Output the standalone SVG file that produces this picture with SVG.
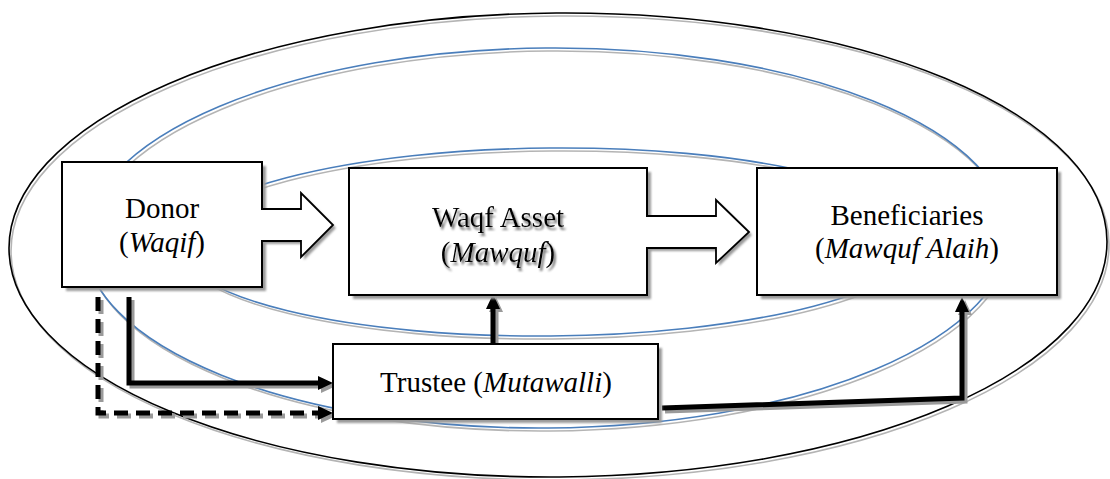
<svg xmlns="http://www.w3.org/2000/svg" width="1110" height="479" viewBox="0 0 1110 479">
  <style>
    .ring { fill: none; stroke-width: 1.6; }
    .ring-black { stroke: #000; }
    .ring-blue { stroke: #4a7ebb; }
    .ring-shadow { fill: none; stroke: #b4b4b4; stroke-width: 1.6; }
    .box { fill: #fff; stroke: #000; stroke-width: 2; }
    .box-shadow { fill: #9a9a9a; filter: url(#soft); }
    .blk { fill: #fff; stroke: #000; stroke-width: 1.8; stroke-linejoin: miter; }
    .blk-shadow { fill: #9a9a9a; filter: url(#soft); }
    text { font-family: 'Liberation Serif', 'DejaVu Serif', serif; font-size: 29px; fill: #000; text-anchor: middle; }
    .glow { filter: url(#textshadow); }
    .it { font-style: italic; }
    .con { fill: none; stroke: #000; stroke-width: 5; }
    .con-shadow { fill: none; stroke: #9a9a9a; stroke-width: 5; }
    .dash { stroke-dasharray: 14 8; }
  </style>
  <defs>
    <filter id="soft" x="-10%" y="-10%" width="120%" height="120%">
      <feGaussianBlur stdDeviation="0.8"/>
    </filter>
    <!-- soft grey drop shadow behind the asset label -->
    <filter id="textshadow" x="-10%" y="-30%" width="120%" height="170%">
      <feGaussianBlur in="SourceAlpha" stdDeviation="1.3" result="b"/>
      <feOffset in="b" dx="2" dy="3" result="o"/>
      <feFlood flood-color="#777"/>
      <feComposite in2="o" operator="in" result="s"/>
      <feMerge>
        <feMergeNode in="s"/>
        <feMergeNode in="SourceGraphic"/>
      </feMerge>
    </filter>
    <marker id="head" markerUnits="userSpaceOnUse" markerWidth="16" markerHeight="16" viewBox="0 0 16 16" refX="2" refY="8" orient="auto">
      <path d="M0,1 L15,8 L0,15 Z" fill="#000"/>
    </marker>
    <marker id="head-shadow" markerUnits="userSpaceOnUse" markerWidth="16" markerHeight="16" viewBox="0 0 16 16" refX="2" refY="8" orient="auto">
      <path d="M0,1 L15,8 L0,15 Z" fill="#9a9a9a"/>
    </marker>
  </defs>

  <!-- nested rings -->
  <g id="rings">
    <g transform="translate(2,3)">
      <ellipse class="ring-shadow" cx="558" cy="245" rx="549" ry="232" transform="rotate(-0.4 558 245)"/>
      <ellipse class="ring-shadow" cx="547" cy="238" rx="462" ry="190" transform="rotate(-0.5 547 238)"/>
      <ellipse class="ring-shadow" cx="550" cy="242" rx="372" ry="94" transform="rotate(-0.5 550 242)"/>
    </g>
    <ellipse class="ring ring-black" cx="558" cy="245" rx="549" ry="232" transform="rotate(-0.4 558 245)"/>
    <ellipse class="ring ring-blue" cx="547" cy="238" rx="462" ry="190" transform="rotate(-0.5 547 238)"/>
    <ellipse class="ring ring-blue" cx="550" cy="242" rx="372" ry="94" transform="rotate(-0.5 550 242)"/>
  </g>

  <!-- connectors -->
  <g id="connectors">
    <g transform="translate(3,3)">
      <path class="con-shadow" d="M129,297 V383 H320" marker-end="url(#head-shadow)"/>
      <path class="con-shadow dash" d="M98,297 V413 H320" marker-end="url(#head-shadow)"/>
      <path class="con-shadow" d="M493,344 V307" marker-end="url(#head-shadow)"/>
      <path class="con-shadow" d="M662,408 L962,398 V310" marker-end="url(#head-shadow)"/>
    </g>
    <path class="con" d="M129,297 V383 H320" marker-end="url(#head)"/>
    <path class="con dash" d="M98,297 V413 H320" marker-end="url(#head)"/>
    <path class="con" d="M493,344 V307" marker-end="url(#head)"/>
    <path class="con" d="M662,408 L962,398 V310" marker-end="url(#head)"/>
  </g>

  <!-- donor -->
  <g id="donor">
    <rect class="box-shadow" x="66" y="166" width="200" height="125"/>
    <rect class="box" x="62" y="162" width="200" height="125"/>
    <text x="162" y="218">Donor</text>
    <text x="162" y="252">(<tspan class="it">Waqif</tspan>)</text>
  </g>

  <!-- donor to asset block arrow -->
  <g id="arrow-donor-asset">
    <path class="blk-shadow" d="M264,212 H304 V196 L336,228 L304,260 V244 H264 Z"/>
    <path class="blk" d="M261,209 H301 V193 L333,225 L301,257 V241 H261"/>
  </g>

  <!-- waqf asset -->
  <g id="asset">
    <rect class="box-shadow" x="353" y="172" width="298" height="127"/>
    <rect class="box" x="349" y="168" width="298" height="127"/>
    <text class="glow" x="498" y="227">Waqf Asset</text>
    <text class="glow" x="498" y="262">(<tspan class="it">Mawquf</tspan>)</text>
  </g>

  <!-- asset to beneficiaries block arrow -->
  <g id="arrow-asset-beneficiaries">
    <path class="blk-shadow" d="M649,219 H719 V203 L752,235 L719,266 V251 H649 Z"/>
    <path class="blk" d="M646,216 H716 V200 L749,232 L716,263 V248 H646"/>
  </g>

  <!-- beneficiaries -->
  <g id="beneficiaries">
    <rect class="box-shadow" x="761" y="172" width="300" height="127"/>
    <rect class="box" x="757" y="168" width="300" height="127"/>
    <text x="907" y="225">Beneficiaries</text>
    <text x="907" y="258">(<tspan class="it">Mawquf Alaih</tspan>)</text>
  </g>

  <!-- trustee -->
  <g id="trustee">
    <rect class="box-shadow" x="337" y="348" width="325" height="75"/>
    <rect class="box" x="333" y="344" width="325" height="75"/>
    <text x="496" y="392">Trustee (<tspan class="it">Mutawalli</tspan>)</text>
  </g>
</svg>
